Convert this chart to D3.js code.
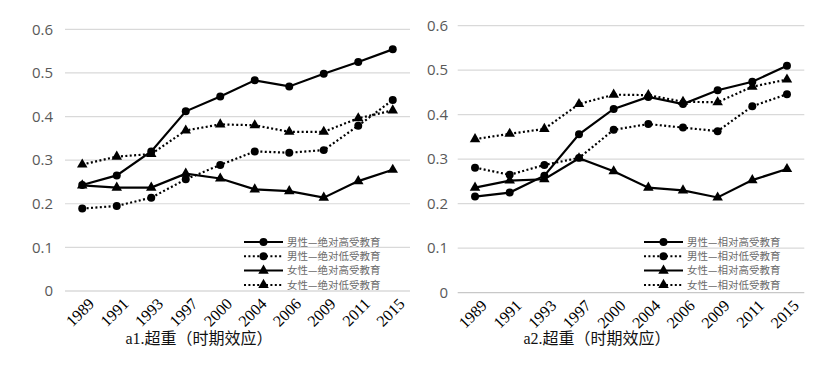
<!DOCTYPE html>
<html><head><meta charset="utf-8">
<script src="https://cdn.jsdelivr.net/npm/d3@7"></script>
<style>
html,body{margin:0;padding:0;background:#fff;}
svg{display:block;}
</style></head>
<body>
<svg id="chart" width="830" height="381"></svg>
<script>
const years = ["1989","1991","1993","1997","2000","2004","2006","2009","2011","2015"];
const yTicks = [0, 0.1, 0.2, 0.3, 0.4, 0.5, 0.6];

// Panel a1 (absolute)
const maleAbsHigh   = [0.243, 0.265, 0.320, 0.412, 0.446, 0.483, 0.469, 0.498, 0.525, 0.554];
const maleAbsLow    = [0.189, 0.195, 0.214, 0.256, 0.289, 0.320, 0.317, 0.323, 0.379, 0.438];
const femaleAbsHigh = [0.242, 0.237, 0.237, 0.269, 0.258, 0.233, 0.229, 0.214, 0.252, 0.278];
const femaleAbsLow  = [0.290, 0.308, 0.314, 0.368, 0.382, 0.380, 0.365, 0.365, 0.396, 0.414];

// Panel a2 (relative)
const maleRelHigh   = [0.216, 0.225, 0.263, 0.356, 0.413, 0.440, 0.424, 0.455, 0.474, 0.510];
const maleRelLow    = [0.281, 0.265, 0.287, 0.303, 0.366, 0.379, 0.371, 0.363, 0.419, 0.446];
const femaleRelHigh = [0.236, 0.252, 0.255, 0.302, 0.273, 0.236, 0.230, 0.214, 0.253, 0.278];
const femaleRelLow  = [0.345, 0.357, 0.368, 0.424, 0.445, 0.444, 0.429, 0.428, 0.463, 0.479];

const namesAbs = ["男性—绝对高受教育","男性—绝对低受教育","女性—绝对高受教育","女性—绝对低受教育"];
const namesRel = ["男性—相对高受教育","男性—相对低受教育","女性—相对高受教育","女性—相对低受教育"];
const titles = ["a1.超重（时期效应）","a2.超重（时期效应）"];

const styles = [
  {dash:null, marker:"circle"},
  {dash:"2,2.4", marker:"circle"},
  {dash:null, marker:"triangle"},
  {dash:"2,2.4", marker:"triangle"}
];

const panels = [
  {x0:65, x1:410, yTop:29.3, yBot:291, labelX:53, series:[maleAbsHigh,maleAbsLow,femaleAbsHigh,femaleAbsLow], names:namesAbs, title:titles[0], titleX:199, legX:244},
  {x0:457.7, x1:804.3, yTop:25.7, yBot:292.7, labelX:448, series:[maleRelHigh,maleRelLow,femaleRelHigh,femaleRelLow], names:namesRel, title:titles[1], titleX:597, legX:644}
];

const svg = d3.select("#chart");
const sym = {circle: d3.symbol().type(d3.symbolCircle).size(50), triangle: d3.symbol().type(d3.symbolTriangle).size(48)};

panels.forEach(p => {
  const g = svg.append("g");
  const x = d3.scalePoint().domain(years).range([p.x0, p.x1]).padding(0.5);
  const y = d3.scaleLinear().domain([0, 0.6]).range([p.yBot, p.yTop]);

  // gridlines
  g.selectAll("line.grid").data(yTicks).enter().append("line")
    .attr("x1", p.x0).attr("x2", p.x1)
    .attr("y1", d => y(d)).attr("y2", d => y(d))
    .attr("stroke", d => d === 0 ? "#c8c8c8" : "#d9d9d9").attr("stroke-width", 1.2);

  // y labels
  g.selectAll("text.yl").data(yTicks).enter().append("text")
    .attr("x", p.labelX).attr("y", d => y(d)).attr("dy", "0.35em")
    .attr("text-anchor", "end")
    .attr("font-family", "'Open Sans', 'Liberation Sans', sans-serif").attr("font-size", 15)
    .attr("fill", "#595959")
    .text(d => d === 0 ? "0" : d.toFixed(1));

  // x labels
  g.selectAll("text.xl").data(years).enter().append("text")
    .attr("transform", d => `translate(${x(d) + 9},${p.yBot + 10}) rotate(-45)`)
    .attr("text-anchor", "end").attr("dy", "0.35em")
    .attr("font-family", "'Liberation Serif', 'DejaVu Serif', serif").attr("font-size", 16)
    .attr("fill", "#000")
    .text(d => d);

  const line = d3.line().x((d, i) => x(years[i])).y(d => y(d));

  p.series.forEach((s, k) => {
    const st = styles[k];
    g.append("path").datum(s).attr("d", line)
      .attr("fill", "none").attr("stroke", "#000").attr("stroke-width", 2.2)
      .attr("stroke-dasharray", st.dash);
    g.selectAll(null).data(s).enter().append("path")
      .attr("d", sym[st.marker])
      .attr("transform", (d, i) => `translate(${x(years[i])},${y(d)})`)
      .attr("fill", "#000");
  });

  // legend
  const leg = g.append("g");
  p.names.forEach((n, k) => {
    const st = styles[k];
    const ly = 242 + k * 14.3;
    leg.append("line").attr("x1", p.legX).attr("x2", p.legX + 39)
      .attr("y1", ly).attr("y2", ly)
      .attr("stroke", "#000").attr("stroke-width", 2)
      .attr("stroke-dasharray", st.dash);
    leg.append("path").attr("d", sym[st.marker])
      .attr("transform", `translate(${p.legX + 19.5},${ly})`).attr("fill", "#000");
    leg.append("text").attr("x", p.legX + 43).attr("y", ly).attr("dy", "0.35em")
      .attr("font-family", "'Noto Sans CJK SC', sans-serif").attr("font-size", 10.5)
      .attr("fill", "#6b6b6b").text(n);
  });

  // title
  g.append("text").attr("x", p.titleX).attr("y", 338).attr("dy", "0.35em")
    .attr("text-anchor", "middle")
    .attr("font-family", "'Liberation Serif', 'Noto Sans CJK SC', serif").attr("font-size", 16)
    .attr("fill", "#111").text(p.title);
});
</script>
</body></html>
